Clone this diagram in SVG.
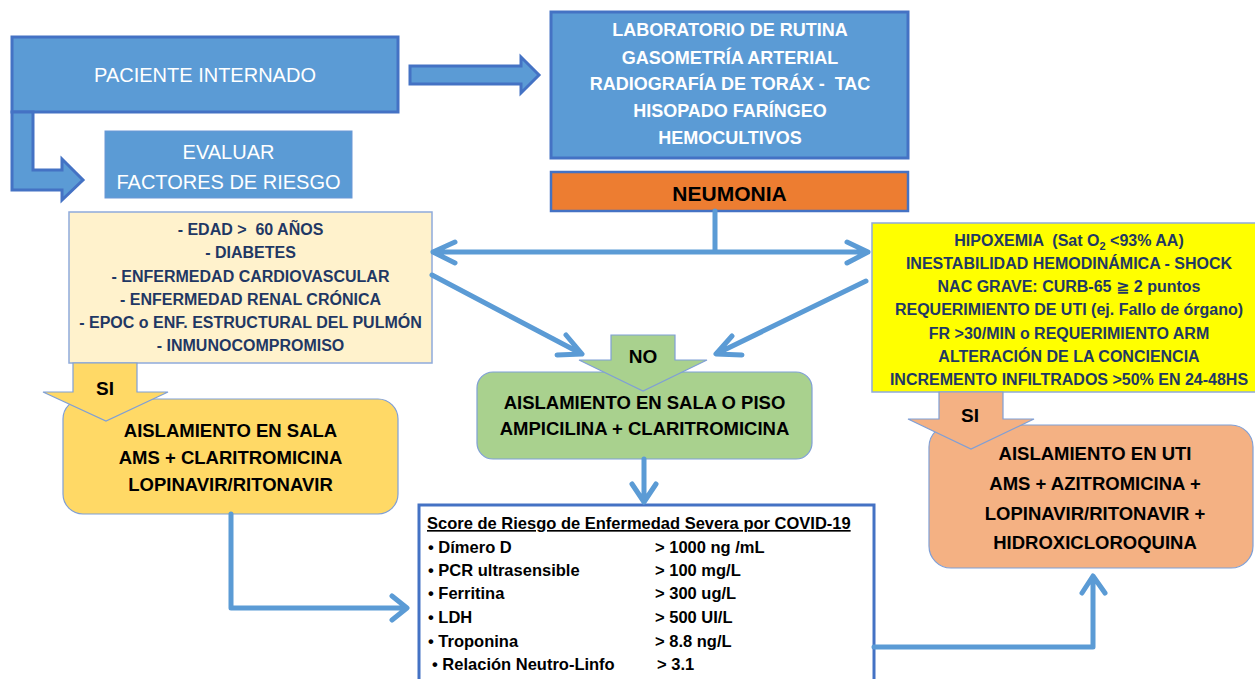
<svg xmlns="http://www.w3.org/2000/svg" width="1255" height="679" viewBox="0 0 1255 679">
<style>
text{font-family:"Liberation Sans",Arial,"DejaVu Sans",sans-serif;text-anchor:middle;white-space:pre}
.blue{fill:#5B9BD5;stroke:#4472C4;stroke-width:3}
.wt{fill:#fff;font-size:20px}
.wb{fill:#fff;font-size:18px;font-weight:bold}
.nv{fill:#1F3864;font-size:16px;font-weight:bold}
.bk{fill:#000;font-size:18.5px;font-weight:bold}
.sc{fill:#000;font-size:16.5px;font-weight:bold;text-anchor:start}
.lab{fill:#000;font-size:19px;font-weight:bold}
.ln{fill:none;stroke:#5B9BD5;stroke-width:5;stroke-linecap:round;stroke-linejoin:round}
</style>
<g id="paciente">
<rect class="blue" x="12" y="37" width="386" height="75"/>
<text class="wt" x="205" y="82">PACIENTE INTERNADO</text>
</g>
<g id="laboratorio">
<rect class="blue" x="551" y="12" width="357" height="146"/>
<text class="wb" x="730" y="35.5">LABORATORIO DE RUTINA</text>
<text class="wb" x="730" y="63.5">GASOMETRÍA ARTERIAL</text>
<text class="wb" x="730" y="89.5" xml:space="preserve">RADIOGRAFÍA DE TORÁX -  TAC</text>
<text class="wb" x="730" y="116.5">HISOPADO FARÍNGEO</text>
<text class="wb" x="730" y="143.5">HEMOCULTIVOS</text>
</g>
<g id="neumonia">
<rect x="551" y="172" width="357" height="39" fill="#ED7D31" stroke="#4472C4" stroke-width="2.5"/>
<text x="729.5" y="200.5" style="font-size:21px;font-weight:bold;fill:#000">NEUMONIA</text>
</g>
<g id="evaluar">
<rect x="105" y="131" width="247" height="67" fill="#5B9BD5" stroke="#6A97D6" stroke-width="1"/>
<text class="wt" x="228.5" y="159">EVALUAR</text>
<text class="wt" x="228.5" y="189">FACTORES DE RIESGO</text>
</g>
<g id="factores">
<rect x="69" y="212" width="363" height="151" fill="#FFF2CC" stroke="#8FAADC" stroke-width="1.5"/>
<text class="nv" x="250.5" y="234.7" xml:space="preserve">- EDAD &gt;  60 AÑOS</text>
<text class="nv" x="250.5" y="257.7">- DIABETES</text>
<text class="nv" x="250.5" y="281.7">- ENFERMEDAD CARDIOVASCULAR</text>
<text class="nv" x="250.5" y="304.7">- ENFERMEDAD RENAL CRÓNICA</text>
<text class="nv" x="250.5" y="327.7">- EPOC o ENF. ESTRUCTURAL DEL PULMÓN</text>
<text class="nv" x="250.5" y="350.7">- INMUNOCOMPROMISO</text>
</g>
<g id="gravedad">
<rect x="872" y="223" width="400" height="169" fill="#FFFF00" stroke="#8FAADC" stroke-width="1.5"/>
<text class="nv" x="1069" y="246" xml:space="preserve">HIPOXEMIA  (Sat O<tspan font-size="11" dy="4">2</tspan><tspan dy="-4"> &lt;93% AA)</tspan></text>
<text class="nv" x="1069" y="269">INESTABILIDAD HEMODINÁMICA - SHOCK</text>
<text class="nv" x="1069" y="292">NAC GRAVE: CURB-65 ≧ 2 puntos</text>
<text class="nv" x="1069" y="315">REQUERIMIENTO DE UTI (ej. Fallo de órgano)</text>
<text class="nv" x="1069" y="339">FR &gt;30/MIN o REQUERIMIENTO ARM</text>
<text class="nv" x="1069" y="362">ALTERACIÓN DE LA CONCIENCIA</text>
<text class="nv" x="1069" y="385">INCREMENTO INFILTRADOS &gt;50% EN 24-48HS</text>
</g>
<g id="sala">
<rect x="63" y="399" width="335" height="115" rx="20" fill="#FFD966" stroke="#7F9FD6" stroke-width="1.2"/>
<text class="bk" x="230.5" y="436.5">AISLAMIENTO EN SALA</text>
<text class="bk" x="230.5" y="463.5">AMS + CLARITROMICINA</text>
<text class="bk" x="230.5" y="490.5">LOPINAVIR/RITONAVIR</text>
</g>
<g id="piso">
<rect x="477" y="372" width="335" height="87" rx="16" fill="#A9D18E" stroke="#7F9FD6" stroke-width="1.2"/>
<text class="bk" x="644.5" y="408.5">AISLAMIENTO EN SALA O PISO</text>
<text class="bk" x="644.5" y="434.5">AMPICILINA + CLARITROMICINA</text>
</g>
<g id="uti">
<rect x="929" y="425" width="324" height="143" rx="22" fill="#F4B183" stroke="#7F9FD6" stroke-width="1.2"/>
<text class="bk" x="1095" y="459.5">AISLAMIENTO EN UTI</text>
<text class="bk" x="1095" y="489.5">AMS + AZITROMICINA +</text>
<text class="bk" x="1095" y="519.5">LOPINAVIR/RITONAVIR +</text>
<text class="bk" x="1095" y="548.5">HIDROXICLOROQUINA</text>
</g>
<g id="score">
<rect x="419" y="505" width="455" height="200" fill="#fff" stroke="#4472C4" stroke-width="3"/>
<text class="sc" x="427" y="529" text-decoration="underline">Score de Riesgo de Enfermedad Severa por COVID-19</text>
<text class="sc" x="428" y="553">• Dímero D</text>
<text class="sc" x="655" y="553">&gt; 1000 ng /mL</text>
<text class="sc" x="428" y="576">• PCR ultrasensible</text>
<text class="sc" x="655" y="576">&gt; 100 mg/L</text>
<text class="sc" x="428" y="599">• Ferritina</text>
<text class="sc" x="655" y="599">&gt; 300 ug/L</text>
<text class="sc" x="428" y="623">• LDH</text>
<text class="sc" x="655" y="623">&gt; 500 UI/L</text>
<text class="sc" x="428" y="647">• Troponina</text>
<text class="sc" x="655" y="647">&gt; 8.8 ng/L</text>
<text class="sc" x="432" y="670">• Relación Neutro-Linfo</text>
<text class="sc" x="657" y="670">&gt; 3.1</text>
</g>
<g id="connectors">
<polygon class="blue" points="410,66 521,66 521,57 539,75 521,93 521,84 410,84"/>
<polygon class="blue" points="12,112 33,112 33,170 62,170 62,159 83,180 62,200 62,190 12,190"/>
<path class="ln" d="M715,211 V252 M433,252 H868 M455,242 L433,252 L455,263 M847,242 L868,252 L847,263"/>
<path class="ln" d="M432,275 L580,353 M566,335 L582,354 L557,355"/>
<path class="ln" d="M866,281 L718,353 M732,336 L716,354 L742,355"/>
<path class="ln" d="M644,459 V502 M632,484 L644,502 L656,484"/>
<path class="ln" d="M231,514 V608 H406 M392,596 L407,608 L392,620"/>
<path class="ln" d="M874,647 H1093 V577 M1082,593 L1093,576 L1105,593"/>
<polygon points="73,363 137,363 137,392 168,392 106,421 43,392 73,392" fill="#FFD966" stroke="#7F9FD6" stroke-width="1.2"/>
<text class="lab" x="105" y="395">SI</text>
<polygon points="611,335 675,335 675,360 707,360 643,391 579,360 611,360" fill="#A9D18E" stroke="#7F9FD6" stroke-width="1.2"/>
<text class="lab" x="643" y="363">NO</text>
<polygon points="939,392 1003,392 1003,419 1034,419 971,449 908,419 939,419" fill="#F4B183" stroke="#7F9FD6" stroke-width="1.2"/>
<text class="lab" x="970" y="422">SI</text>
</g>
</svg>
